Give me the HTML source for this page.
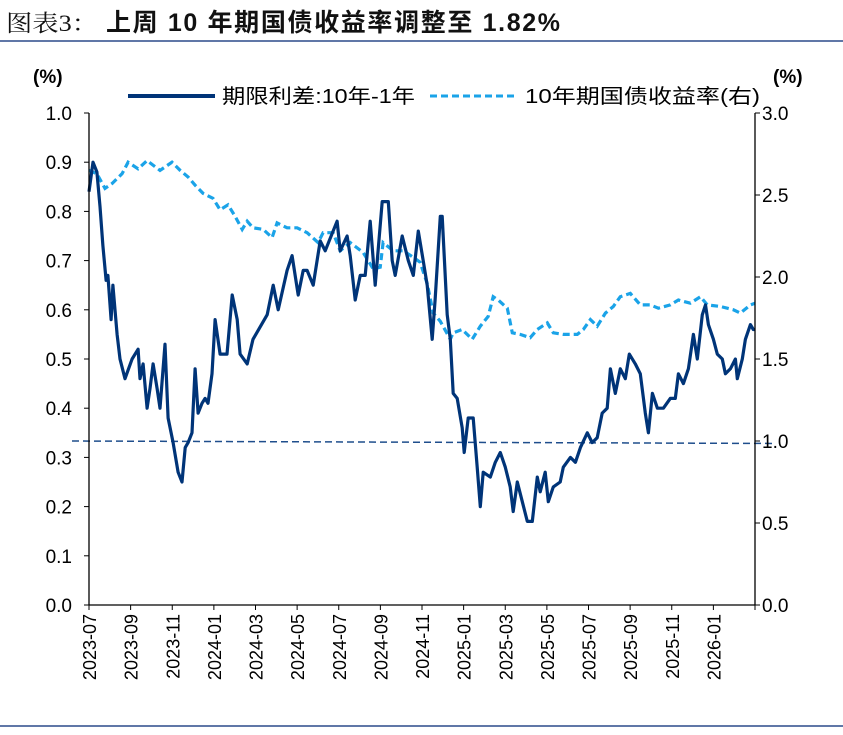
<!DOCTYPE html>
<html><head><meta charset="utf-8">
<style>
body{margin:0;background:#fff;width:843px;height:730px;overflow:hidden;font-family:"Liberation Sans","Noto Sans CJK SC",sans-serif;}
svg text{font-family:"Liberation Sans","Noto Sans CJK SC",sans-serif;}
</style></head><body>
<svg id="chart" width="843" height="730">
<text x="6" y="31" font-size="23" fill="#111" style="font-family:'Liberation Serif','Noto Serif CJK SC',serif" textLength="92" lengthAdjust="spacingAndGlyphs">图表3：</text>
<text x="106" y="31" font-size="25" font-weight="bold" fill="#111" textLength="454" lengthAdjust="spacing">上周 10 年期国债收益率调整至 1.82%</text>
<line x1="0" y1="41" x2="843" y2="41" stroke="#2b4a8a" stroke-width="1.5"/>
<line x1="0" y1="726" x2="843" y2="726" stroke="#2b4a8a" stroke-width="1.5"/>
<text x="33" y="83" font-size="19" font-weight="bold" fill="#000">(%)</text>
<text x="773" y="83" font-size="19" font-weight="bold" fill="#000">(%)</text>
<g>
<line x1="128" y1="96" x2="215" y2="96" stroke="#003478" stroke-width="4"/>
<text x="222" y="103" font-size="20" fill="#000" textLength="193" lengthAdjust="spacingAndGlyphs">期限利差:10年-1年</text>
<line x1="430" y1="96" x2="517" y2="96" stroke="#1aa3e8" stroke-width="3" stroke-dasharray="7,4"/>
<text x="525" y="103" font-size="20" fill="#000" textLength="235" lengthAdjust="spacingAndGlyphs">10年期国债收益率(右)</text>
</g>
<g id="plot"></g>
</svg>
<script>
const xTickLabels=["2023-07","2023-09","2023-11","2024-01","2024-03","2024-05","2024-07","2024-09","2024-11","2025-01","2025-03","2025-05","2025-07","2025-09","2025-11","2026-01"];
const leftTicks=[0,0.1,0.2,0.3,0.4,0.5,0.6,0.7,0.8,0.9,1.0];
const rightTicks=[0,0.5,1.0,1.5,2.0,2.5,3.0];
// months since 2023-07
const spreadMonths=[0,0.19,0.38,0.53,0.67,0.82,0.91,1.06,1.15,1.35,1.49,1.73,2.07,2.36,2.45,2.6,2.79,2.93,3.08,3.27,3.41,3.65,3.8,4.04,4.28,4.47,4.62,4.76,4.95,5.1,5.24,5.43,5.58,5.72,5.91,6.06,6.3,6.63,6.88,7.12,7.26,7.6,7.88,8.56,8.85,9.09,9.52,9.76,10.05,10.29,10.48,10.77,11.11,11.35,11.92,12.07,12.4,12.55,12.79,13.03,13.27,13.51,13.75,14.09,14.38,14.57,14.71,15.05,15.34,15.58,15.82,16.06,16.25,16.49,16.63,16.88,16.97,17.21,17.36,17.5,17.69,17.93,18.03,18.22,18.46,18.65,18.8,18.94,19.28,19.52,19.76,20,20.24,20.38,20.58,20.82,21.06,21.3,21.54,21.68,21.92,22.07,22.31,22.64,22.79,23.13,23.37,23.61,23.94,24.18,24.42,24.66,24.9,25.05,25.29,25.53,25.77,25.96,26.25,26.49,26.73,26.88,27.07,27.31,27.6,27.93,28.17,28.32,28.56,28.8,29.04,29.23,29.47,29.62,29.76,30,30.19,30.43,30.58,30.82,31.06,31.15,31.39,31.54,31.78,31.92,32];
const spreadValues=[0.84,0.9,0.88,0.81,0.73,0.66,0.67,0.58,0.65,0.55,0.5,0.46,0.5,0.52,0.46,0.49,0.4,0.44,0.49,0.44,0.4,0.53,0.38,0.33,0.27,0.25,0.32,0.33,0.35,0.48,0.39,0.41,0.42,0.41,0.47,0.58,0.51,0.51,0.63,0.58,0.51,0.49,0.54,0.59,0.65,0.6,0.68,0.71,0.63,0.68,0.68,0.65,0.74,0.72,0.78,0.72,0.75,0.71,0.62,0.67,0.67,0.78,0.65,0.82,0.82,0.7,0.67,0.75,0.7,0.67,0.76,0.7,0.65,0.54,0.62,0.79,0.79,0.59,0.54,0.43,0.42,0.36,0.31,0.38,0.38,0.28,0.2,0.27,0.26,0.29,0.31,0.28,0.24,0.19,0.25,0.21,0.17,0.17,0.26,0.23,0.27,0.21,0.24,0.25,0.28,0.3,0.29,0.32,0.35,0.33,0.34,0.39,0.4,0.48,0.43,0.48,0.46,0.51,0.49,0.47,0.39,0.35,0.43,0.4,0.4,0.42,0.42,0.47,0.45,0.48,0.55,0.5,0.59,0.61,0.57,0.54,0.51,0.5,0.47,0.48,0.5,0.46,0.5,0.54,0.57,0.56,0.56];
const yieldMonths=[0,0.38,0.77,1.11,1.59,1.88,2.36,2.79,3.41,3.99,4.38,4.76,5.1,5.48,5.96,6.3,6.68,7.02,7.36,7.6,7.88,8.37,8.8,9.04,9.52,10,10.48,11.01,11.25,11.73,12.07,12.55,13.17,13.65,13.99,14.13,14.62,15.1,15.58,15.91,16.25,16.54,16.88,17.36,17.5,17.93,18.41,18.8,19.18,19.42,19.66,20.1,20.34,20.72,21.2,21.54,22.02,22.31,22.79,23.46,23.75,24.09,24.42,24.81,25.19,25.53,26.01,26.49,26.97,27.36,27.93,28.32,28.89,29.38,29.71,30.34,30.96,31.3,31.78,32];
const yieldValues=[2.65,2.63,2.54,2.57,2.63,2.7,2.66,2.71,2.65,2.7,2.65,2.61,2.56,2.51,2.48,2.41,2.44,2.37,2.29,2.34,2.3,2.29,2.24,2.33,2.3,2.3,2.27,2.21,2.27,2.27,2.16,2.21,2.15,2.05,2.06,2.21,2.16,2.16,2.12,2.09,1.96,1.78,1.73,1.62,1.66,1.68,1.62,1.7,1.76,1.88,1.86,1.81,1.66,1.65,1.63,1.68,1.72,1.66,1.65,1.65,1.68,1.74,1.7,1.78,1.82,1.88,1.9,1.83,1.83,1.81,1.83,1.86,1.84,1.88,1.83,1.82,1.8,1.78,1.83,1.84];
const refLineValues=[1.0,0.985];

const NS="http://www.w3.org/2000/svg";
const X0=89,X1=755,Y0=605,Y1=113,MMAX=32;
const xs=m=>X0+(X1-X0)*m/MMAX;
const yl=v=>Y0-(Y0-Y1)*v/1.0;
const yr=v=>Y0-(Y0-Y1)*v/3.0;
const plot=document.getElementById('plot');
function mk(tag,attrs){const e=document.createElementNS(NS,tag);for(const k in attrs)e.setAttribute(k,attrs[k]);plot.appendChild(e);return e;}

let ref=mk('line',{x1:72,y1:yr(refLineValues[0]),x2:772,y2:yr(refLineValues[1]),stroke:'#1f4e8c','stroke-width':1.5,'stroke-dasharray':'7,4'});



let yp=yieldMonths.map((m,i)=>xs(m).toFixed(1)+','+yr(yieldValues[i]).toFixed(1)).join(' ');
let yl1=mk('polyline',{points:yp,fill:'none',stroke:'#1aa3e8','stroke-width':3.2,'stroke-dasharray':'7,4'});



let sp=spreadMonths.map((m,i)=>xs(m).toFixed(1)+','+yl(spreadValues[i]).toFixed(1)).join(' ');
let sl=mk('polyline',{points:sp,fill:'none',stroke:'#003478','stroke-width':3.2,'stroke-linejoin':'round'});



let la=mk('line',{x1:X0,y1:Y1,x2:X0,y2:Y0,stroke:'#000','stroke-width':1.3});


let ra=mk('line',{x1:X1,y1:Y1,x2:X1,y2:Y0,stroke:'#000','stroke-width':1.3});


let ba=mk('line',{x1:X0,y1:Y0,x2:X1,y2:Y0,stroke:'#000','stroke-width':1.3});



leftTicks.forEach(v=>{
  const y=yl(v);
  let t=mk('line',{x1:X0-5,y1:y,x2:X0,y2:y,stroke:'#000','stroke-width':1});
  
  
  let tx=mk('text',{x:X0-17,y:y+7,'font-size':19,'text-anchor':'end',fill:'#000'});
  tx.textContent=v.toFixed(1);
  
  
});
rightTicks.forEach(v=>{
  const y=yr(v);
  let t=mk('line',{x1:X1,y1:y,x2:X1+5,y2:y,stroke:'#000','stroke-width':1});
  
  
  let tx=mk('text',{x:X1+7,y:y+7,'font-size':19,fill:'#000'});
  tx.textContent=v.toFixed(1);
  
  
});
xTickLabels.forEach((lab,i)=>{
  const x=xs(i*2);
  let t=mk('line',{x1:x,y1:Y0,x2:x,y2:Y0+5,stroke:'#000','stroke-width':1});
  
  
  let tx=mk('text',{x:0,y:0,'font-size':18,'text-anchor':'end',fill:'#000',transform:`translate(${x+7},${Y0+9}) rotate(-90)`});
  tx.textContent=lab;
  
  
});
let lastT=mk('line',{x1:X1,y1:Y0,x2:X1,y2:Y0+5,stroke:'#000','stroke-width':1});


</script>
</body></html>
